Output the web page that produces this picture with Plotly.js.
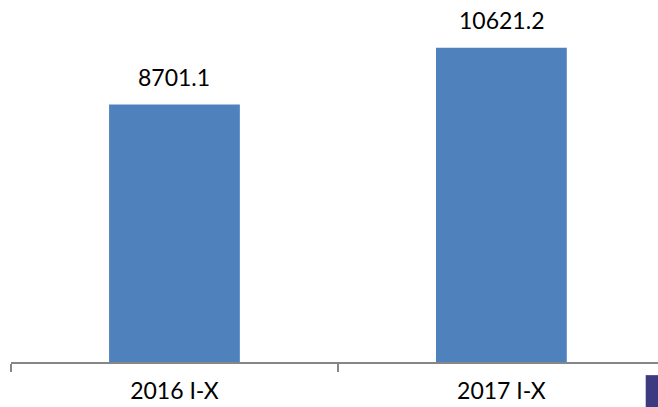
<!DOCTYPE html>
<html>
<head>
<meta charset="utf-8">
<script src="https://cdn.plot.ly/plotly-3.0.1.min.js"></script>
<style>
  html, body { margin: 0; padding: 0; background: #fff; }
  #plot { width: 658px; height: 407px; }
</style>
</head>
<body>
<div id="plot"></div>
<script>
// Chart data
const categories = ['2016 I-X', '2017 I-X'];
const values = [8701.1, 10621.2];
const valueLabels = ['8701.1', '10621.2'];

const barColor = '#4f81bd';
const fontFamily = 'Lato, "Open Sans", sans-serif';

const trace = {
    type: 'bar',
    x: categories,
    y: values,
    marker: { color: barColor },
    hoverinfo: 'skip'
};

// value labels above each bar
const labels = categories.map((cat, i) => ({
    x: cat,
    y: values[i],
    text: valueLabels[i],
    showarrow: false,
    xref: 'x',
    yref: 'y',
    yanchor: 'middle',
    yshift: 28,
    font: { family: fontFamily, size: 23, color: '#000' }
}));

const layout = {
    width: 658,
    height: 407,
    margin: { l: 11, r: 0, t: 7, b: 45 },
    paper_bgcolor: '#ffffff',
    plot_bgcolor: '#ffffff',
    showlegend: false,
    bargap: 0.6,
    font: { family: fontFamily, size: 23, color: '#000' },
    xaxis: {
        type: 'category',
        range: [-0.5, 1.479],
        showline: true,
        linecolor: '#868686',
        linewidth: 1.5,
        ticks: 'outside',
        tickson: 'boundaries',
        ticklen: 8,
        tickcolor: '#868686',
        tickwidth: 1.5,
        ticklabelstandoff: 8,
        showgrid: false,
        zeroline: false,
        tickfont: { family: fontFamily, size: 23, color: '#000' }
    },
    yaxis: {
        range: [0, 12000],
        visible: false,
        showgrid: false,
        zeroline: false
    },
    annotations: labels,
    shapes: [{
        // clipped legend swatch at bottom right
        type: 'rect',
        xref: 'paper',
        yref: 'paper',
        x0: 0.981, x1: 1.0,
        y0: -0.127, y1: -0.037,
        fillcolor: '#3d3a82',
        line: { width: 0 }
    }]
};

const config = { displayModeBar: false, staticPlot: true };

Plotly.newPlot('plot', [trace], layout, config);
</script>
</body>
</html>
